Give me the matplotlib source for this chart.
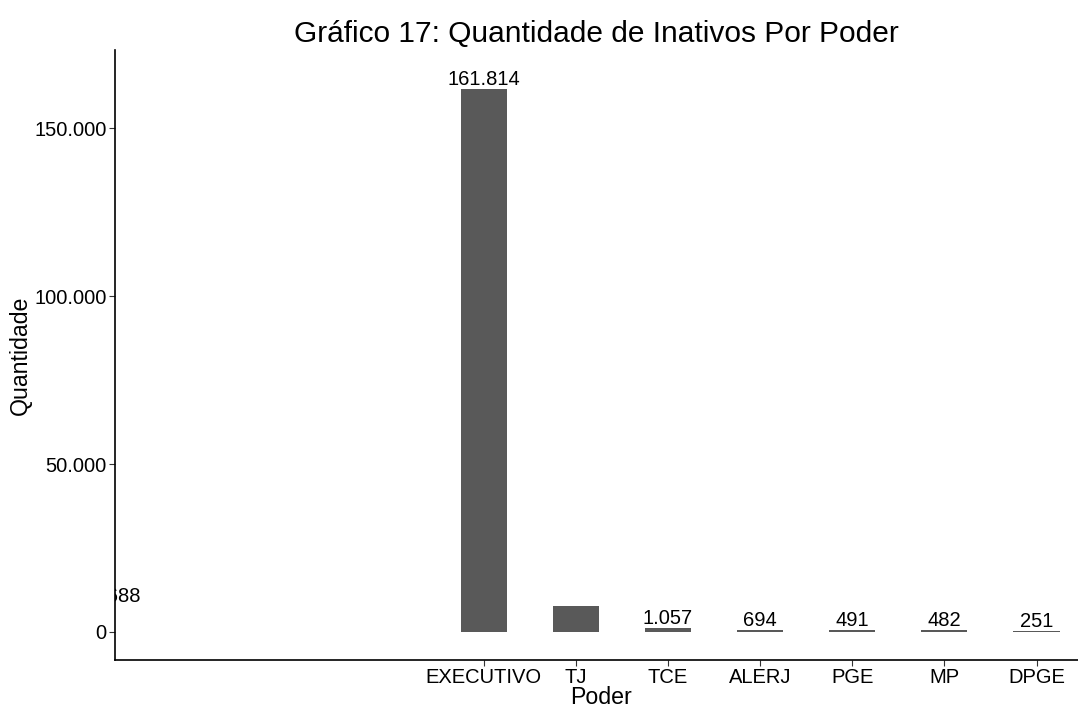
import matplotlib.pyplot as plt
from matplotlib.ticker import FuncFormatter

plt.rcParams['font.family'] = ['Liberation Sans', 'DejaVu Sans']

poderes = ["EXECUTIVO", "TJ", "TCE", "ALERJ", "PGE", "MP", "DPGE"]
quantidade = [161814, 7688, 1057, 694, 491, 482, 251]
rotulos = ["161.814", "7.688", "1.057", "694", "491", "482", "251"]

fig = plt.figure(figsize=(10.78, 7.08), dpi=100)
ax = fig.add_axes([115 / 1078, 48 / 708, 963 / 1078, 610 / 708])

x = list(range(len(poderes)))
ax.bar(x, quantidade, width=0.5, color="#595959")

# TJ label ends up stuck at the left edge in the original
for i, (v, r) in enumerate(zip(quantidade, rotulos)):
    xi = -4 if poderes[i] == "TJ" else i
    ax.text(xi, v, r, ha="center", va="bottom", fontsize=14.5, clip_on=True)

ax.set_xlim(-4, 6.45)
ax.set_ylim(-8366, 173300)
ax.set_xticks(x)
ax.set_xticklabels(poderes)
ax.set_yticks([0, 50000, 100000, 150000])
ax.yaxis.set_major_formatter(FuncFormatter(lambda v, p: f"{int(v):,}".replace(",", ".")))

for s in ["top", "right"]:
    ax.spines[s].set_visible(False)
for s in ["left", "bottom"]:
    ax.spines[s].set_linewidth(1.2)
ax.tick_params(axis="both", labelsize=14.5, length=4, color="#333333", pad=2)

ax.set_xlabel("Poder", fontsize=16.7, labelpad=0)
ax.xaxis.set_label_coords(0.505, -0.043)
ax.set_ylabel("Quantidade", fontsize=16.7, labelpad=2)
ax.set_title("Gráfico 17: Quantidade de Inativos Por Poder", fontsize=21.5, pad=6)

fig.savefig("out.png", dpi=100)
